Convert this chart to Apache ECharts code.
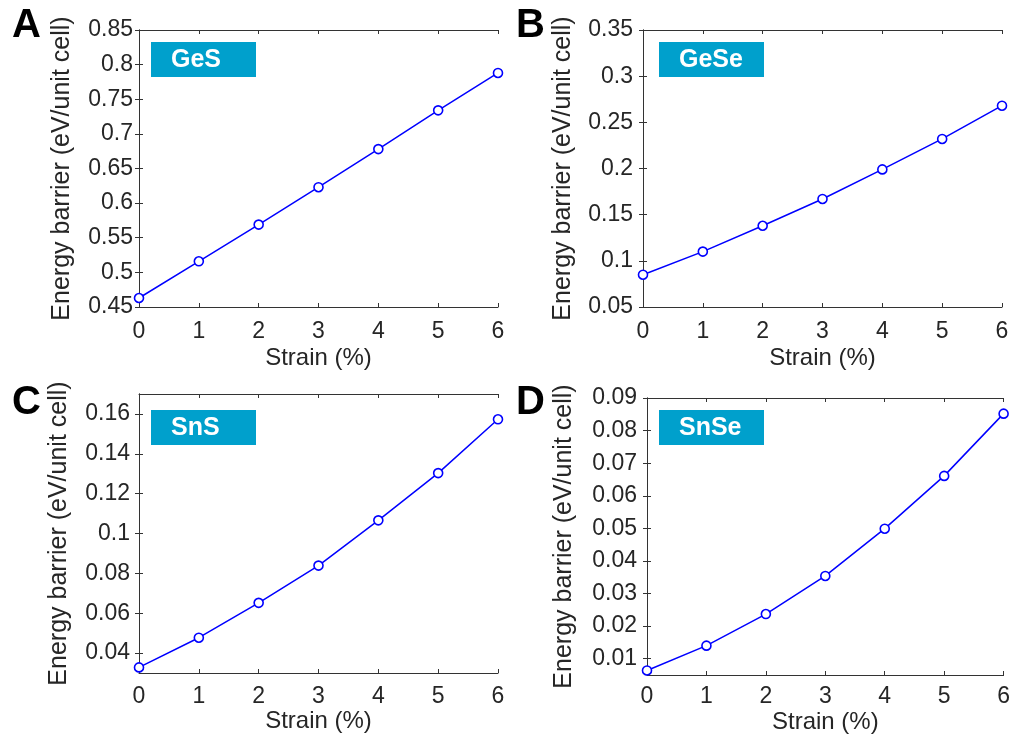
<!DOCTYPE html>
<html>
<head>
<meta charset="utf-8">
<script src="https://cdn.jsdelivr.net/npm/echarts@6/dist/echarts.min.js"></script>
<style>
html, body { margin: 0; padding: 0; background: #fff; }
#chart { width: 1013px; height: 740px; }
</style>
</head>
<body>
<div id="chart"></div>
<script>
// strain values (x) shared by all four panels
var strain = [0, 1, 2, 3, 4, 5, 6];
// energy barrier (eV/unit cell)
var gesBarrier  = [0.463, 0.516, 0.569, 0.623, 0.678, 0.734, 0.788];
var geseBarrier = [0.085, 0.110, 0.138, 0.167, 0.199, 0.232, 0.268];
var snsBarrier  = [0.0328, 0.0477, 0.0652, 0.0839, 0.1066, 0.1303, 0.1573];
var snseBarrier = [0.0064, 0.0140, 0.0237, 0.0354, 0.0499, 0.0661, 0.0852];

var materials = ['GeS', 'GeSe', 'SnS', 'SnSe'];
var letters = ['A', 'B', 'C', 'D'];

// tick labels
var xTicks = [0, 1, 2, 3, 4, 5, 6];
var ticksGeS  = [0.45, 0.5, 0.55, 0.6, 0.65, 0.7, 0.75, 0.8, 0.85];
var ticksGeSe = [0.05, 0.1, 0.15, 0.2, 0.25, 0.3, 0.35];
var ticksSnS  = [0.04, 0.06, 0.08, 0.1, 0.12, 0.14, 0.16];
var ticksSnSe = [0.01, 0.02, 0.03, 0.04, 0.05, 0.06, 0.07, 0.08, 0.09];
// y axis limits
var yMin = [0.45, 0.05, 0.03, 0.005];
var yMax = [0.85, 0.35, 0.17, 0.09];

var allData = [gesBarrier, geseBarrier, snsBarrier, snseBarrier];
var allTicks = [ticksGeS, ticksGeSe, ticksSnS, ticksSnSe];

// panel layout (pixels)
var boxes = [
    {left: 139, top: 30,  width: 359, height: 277, yMargin: 6,  yGap: 64, xGap: 39, xMargin: 13,
     letterX: 12, letterY: 6, tagX: 151, tagY: 42},
    {left: 643, top: 30,  width: 359, height: 277, yMargin: 10, yGap: 67, xGap: 39, xMargin: 13,
     letterX: 516, letterY: 6, tagX: 659, tagY: 42},
    {left: 139, top: 394, width: 359, height: 279, yMargin: 9,  yGap: 67, xGap: 33, xMargin: 12,
     letterX: 12, letterY: 383, tagX: 151, tagY: 410},
    {left: 647, top: 398, width: 358, height: 277, yMargin: 10, yGap: 70, xGap: 35, xMargin: 10,
     letterX: 516, letterY: 383, tagX: 659, tagY: 410}
];

var FONT = 'Liberation Sans';
var TXT = '#262626';
var AX = '#333';

var grid = [], xAxis = [], yAxis = [], series = [], graphic = [];

function fmt(v) { return String(+v.toFixed(4)); }

for (var i = 0; i < 4; i++) {
    var b = boxes[i];
    grid.push({left: b.left, top: b.top, width: b.width, height: b.height, containLabel: false});

    // bottom x axis with labels
    xAxis.push({
        type: 'value', gridIndex: i, position: 'bottom', min: 0, max: 6,
        name: 'Strain (%)', nameLocation: 'middle', nameGap: b.xGap,
        nameTextStyle: {fontFamily: FONT, fontSize: 24, color: TXT},
        axisLine: {show: true, lineStyle: {color: AX, width: 1}},
        axisTick: {show: true, inside: true, length: 4, customValues: xTicks, lineStyle: {color: AX}},
        axisLabel: {show: true, customValues: xTicks, margin: b.xMargin, fontFamily: FONT, fontSize: 23, color: TXT, formatter: fmt},
        splitLine: {show: false}
    });
    // top x axis, ticks only
    xAxis.push({
        type: 'value', gridIndex: i, position: 'top', min: 0, max: 6,
        axisLine: {show: true, lineStyle: {color: AX, width: 1}},
        axisTick: {show: true, inside: true, length: 4, customValues: xTicks, lineStyle: {color: AX}},
        axisLabel: {show: false},
        splitLine: {show: false}
    });
    // left y axis with labels
    yAxis.push({
        type: 'value', gridIndex: i, position: 'left', min: yMin[i], max: yMax[i],
        name: 'Energy barrier (eV/unit cell)', nameLocation: 'middle', nameGap: b.yGap,
        nameTextStyle: {fontFamily: FONT, fontSize: 25, color: TXT},
        axisLine: {show: true, lineStyle: {color: AX, width: 1}},
        axisTick: {show: true, inside: true, length: 4, customValues: allTicks[i], lineStyle: {color: AX}},
        axisLabel: {show: true, customValues: allTicks[i], margin: b.yMargin, fontFamily: FONT, fontSize: 23, color: TXT, formatter: fmt},
        splitLine: {show: false}
    });
    // right y axis, ticks only
    yAxis.push({
        type: 'value', gridIndex: i, position: 'right', min: yMin[i], max: yMax[i],
        axisLine: {show: true, lineStyle: {color: AX, width: 1}},
        axisTick: {show: true, inside: true, length: 4, customValues: allTicks[i], lineStyle: {color: AX}},
        axisLabel: {show: false},
        splitLine: {show: false}
    });

    var pts = [];
    for (var j = 0; j < strain.length; j++) pts.push([strain[j], allData[i][j]]);
    series.push({
        type: 'line', name: materials[i], xAxisIndex: 2 * i, yAxisIndex: 2 * i,
        data: pts, clip: false, silent: true,
        symbol: 'circle', symbolSize: 9,
        lineStyle: {color: '#0000ff', width: 1.5},
        itemStyle: {color: '#ffffff', borderColor: '#0000ff', borderWidth: 1.6}
    });

    // panel letter
    graphic.push({
        type: 'text', left: b.letterX, top: b.letterY,
        style: {text: letters[i], font: 'bold 40px ' + FONT, fill: '#000'}
    });
    // material label box
    graphic.push({
        type: 'rect', shape: {x: b.tagX, y: b.tagY, width: 105, height: 35},
        style: {fill: '#00a0cc'}
    });
    graphic.push({
        type: 'text', x: b.tagX + 20, y: b.tagY + 18,
        style: {text: materials[i], font: 'bold 25px ' + FONT, fill: '#fff', verticalAlign: 'middle', align: 'left'}
    });
}

var myChart = echarts.init(document.getElementById('chart'), null, {renderer: 'canvas'});
myChart.setOption({
    animation: false,
    backgroundColor: '#fff',
    grid: grid,
    xAxis: xAxis,
    yAxis: yAxis,
    series: series,
    graphic: graphic
});
</script>
</body>
</html>
